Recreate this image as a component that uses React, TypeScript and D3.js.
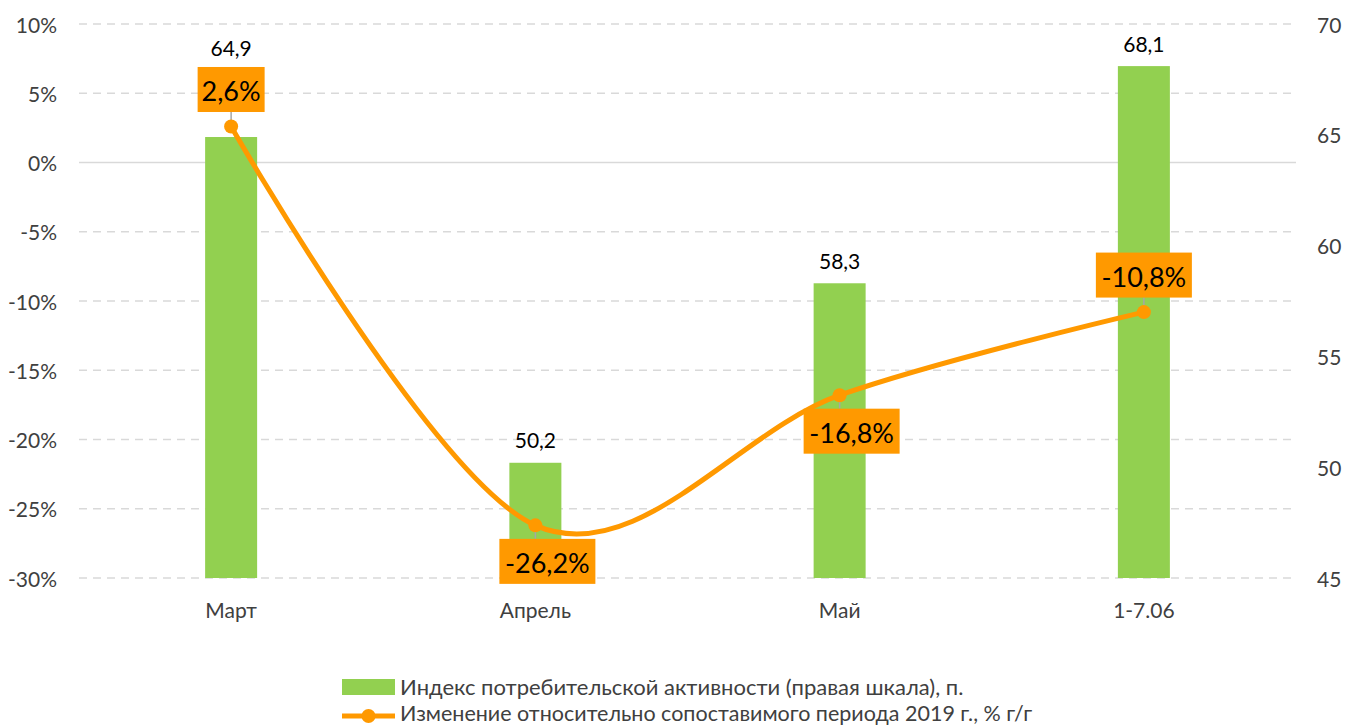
import React from "react";
import * as d3 from "d3";

const categories = ["Март", "Апрель", "Май", "1-7.06"];
const indexValues = [64.9, 50.2, 58.3, 68.1];
const changeValues = [2.6, -26.2, -16.8, -10.8];
const changeLabelSide = ["above", "below", "below", "above"];
const leftTicks = [-30, -25, -20, -15, -10, -5, 0, 5, 10];
const rightTicks = [45, 50, 55, 60, 65, 70];
const legendLabels = [
  "Индекс потребительской активности (правая шкала), п.",
  "Изменение относительно сопоставимого периода 2019 г., % г/г",
];

const W = 1345;
const H = 727;
const FONT = "Lato, 'Open Sans', sans-serif";
const BAR = "#92D050";
const ORANGE = "#FF9900";

export default function App() {
  const x = d3.scaleBand<string>().domain(categories).range([79, 1296]).paddingInner(0).paddingOuter(0);
  const cx = (c: string) => (x(c) as number) + x.bandwidth() / 2;
  const yL = d3.scaleLinear().domain([-30, 10]).range([578, 24]);
  const yR = d3.scaleLinear().domain([45, 70]).range([578, 24]);
  const barW = 52;
  const fmt = (v: number) => v.toFixed(1).replace(".", ",");

  const pts: [number, number][] = categories.map((c, i) => [cx(c), yL(changeValues[i])]);
  const line = d3.line().curve(d3.curveCardinal.tension(0))(pts) as string;

  const boxH = 45;
  const boxes = categories.map((c, i) => {
    const txt = fmt(changeValues[i]) + "%";
    const w = txt.length * 14.5 + 9;
    const py = yL(changeValues[i]);
    const above = changeLabelSide[i] === "above";
    const cy = above ? py - 37 : py + 36;
    const shift = above ? 0 : 12;
    return { txt, w, cx: cx(c) + shift, cy, py, above };
  });

  return (
    <svg width={W} height={H} style={{ position: "absolute", left: 0, top: 0, background: "#fff" }} fontFamily={FONT}>
      {leftTicks.map((t) => (
        <line
          key={"g" + t}
          x1={79}
          x2={1296}
          y1={yL(t)}
          y2={yL(t)}
          stroke="#D9D9D9"
          strokeWidth={1.5}
          strokeDasharray={t === 0 ? undefined : "8,6"}
        />
      ))}
      {leftTicks.map((t) => (
        <text key={"l" + t} x={57} y={yL(t)} textAnchor="end" dominantBaseline="central" fontSize={21} fill="#404040">
          {t + "%"}
        </text>
      ))}
      {rightTicks.map((t) => (
        <text key={"r" + t} x={1317} y={yR(t)} textAnchor="start" dominantBaseline="central" fontSize={21} fill="#404040">
          {t}
        </text>
      ))}
      {categories.map((c) => (
        <text key={"c" + c} x={cx(c)} y={609} textAnchor="middle" dominantBaseline="central" fontSize={21} fill="#404040">
          {c}
        </text>
      ))}
      {categories.map((c, i) => (
        <rect key={"b" + c} x={cx(c) - barW / 2} y={yR(indexValues[i])} width={barW} height={578 - yR(indexValues[i])} fill={BAR} />
      ))}
      {categories.map((c, i) => {
        const top = yR(indexValues[i]);
        const b = boxes[i];
        let ly = top - 23;
        const bt = b.cy - boxH / 2;
        const bb = b.cy + boxH / 2;
        if (bt < ly + 12 && bb > ly - 12) ly = bt - 19;
        return (
          <text key={"bl" + c} x={cx(c)} y={ly} textAnchor="middle" dominantBaseline="central" fontSize={21} fill="#000">
            {fmt(indexValues[i])}
          </text>
        );
      })}
      {boxes.map((b, i) => (
        <line
          key={"ld" + i}
          x1={pts[i][0]}
          x2={pts[i][0]}
          y1={b.above ? b.cy + boxH / 2 : b.cy - boxH / 2}
          y2={b.py}
          stroke="#A6A6A6"
          strokeWidth={1.5}
        />
      ))}
      <path d={line} fill="none" stroke={ORANGE} strokeWidth={5} strokeLinecap="round" />
      {pts.map((p, i) => (
        <circle key={"p" + i} cx={p[0]} cy={p[1]} r={7} fill={ORANGE} />
      ))}
      {boxes.map((b, i) => (
        <g key={"bx" + i}>
          <rect x={b.cx - b.w / 2} y={b.cy - boxH / 2} width={b.w} height={boxH} fill={ORANGE} />
          <text x={b.cx} y={b.cy + 1} textAnchor="middle" dominantBaseline="central" fontSize={27} fill="#000">
            {b.txt}
          </text>
        </g>
      ))}
      <rect x={342} y={679} width={53} height={16} fill={BAR} />
      <text x={400} y={686} dominantBaseline="central" fontSize={22} fill="#404040">
        {legendLabels[0]}
      </text>
      <line x1={342} x2={395} y1={716} y2={716} stroke={ORANGE} strokeWidth={5} />
      <circle cx={368.5} cy={716} r={7} fill={ORANGE} />
      <text x={400} y={713} dominantBaseline="central" fontSize={21.5} fill="#404040">
        {legendLabels[1]}
      </text>
    </svg>
  );
}
